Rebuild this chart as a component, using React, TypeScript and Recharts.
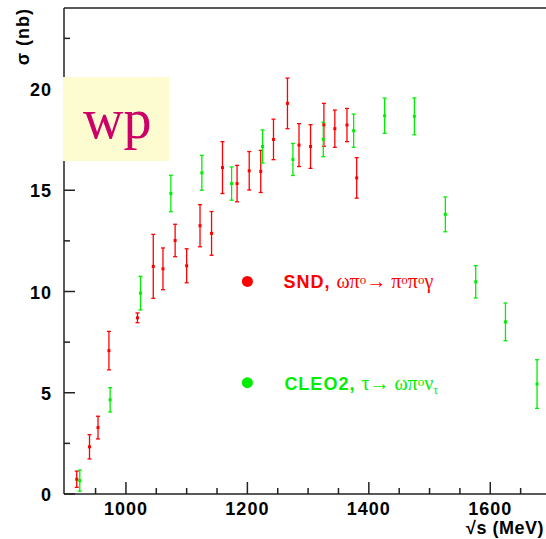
import React from "react";
import {
  ScatterChart,
  Scatter,
  XAxis,
  YAxis,
  ErrorBar,
  ReferenceLine,
  ReferenceDot,
} from "recharts";

// SND e+e- -> omega pi0 -> pi0 pi0 gamma (sqrt(s) in MeV, sigma in nb, stat. error)
const sndEnergy = [919, 940, 954, 972, 1019, 1045, 1061, 1081, 1100, 1122, 1141, 1159, 1183, 1203, 1222, 1243, 1266, 1285, 1304, 1326, 1344, 1364, 1380];
const sndSigma = [0.73, 2.33, 3.28, 7.08, 8.7, 11.24, 11.12, 12.52, 11.27, 13.25, 12.87, 16.12, 15.33, 15.96, 15.93, 17.51, 19.29, 17.23, 17.16, 18.23, 18.04, 18.22, 15.61];
const sndError = [0.4, 0.6, 0.56, 0.95, 0.24, 1.58, 1.03, 0.8, 0.84, 1.04, 1.08, 1.28, 0.9, 0.95, 1.04, 1.0, 1.25, 1.06, 1.08, 1.06, 0.92, 0.82, 1.0];

// CLEO2 tau -> omega pi0 nu (converted)
const cleoEnergy = [924, 974, 1024, 1074, 1125, 1174, 1225, 1275, 1325, 1375, 1426, 1475, 1526, 1576, 1625, 1677];
const cleoSigma = [0.66, 4.65, 9.92, 14.84, 15.86, 15.33, 17.16, 16.52, 17.51, 17.94, 18.68, 18.65, 13.81, 10.48, 8.5, 5.43];
const cleoError = [0.52, 0.6, 0.83, 0.9, 0.86, 0.82, 0.82, 0.79, 0.85, 0.82, 0.87, 0.91, 0.86, 0.8, 0.93, 1.2];

const xTicks = [950, 1000, 1050, 1100, 1150, 1200, 1250, 1300, 1350, 1400, 1450, 1500, 1550, 1600, 1650];
const yTicks = [0, 2.5, 5, 7.5, 10, 12.5, 15, 17.5, 20, 22.5];

const legendX = 1200;
const sndLegendY = 10.5;
const cleoLegendY = 5.5;

const RED = "#ff0000";
const GREEN = "#00ee00";
const AXIS = "#222";
const SANS = "'Liberation Sans', Arial, sans-serif";
const SERIF = "'Liberation Serif', 'Times New Roman', serif";

const toPoints = (xs: number[], ys: number[], es: number[]) =>
  xs.map((x, i) => ({ x, y: ys[i], err: es[i] }));

const sndData = toPoints(sndEnergy, sndSigma, sndError);
const cleoData = toPoints(cleoEnergy, cleoSigma, cleoError);

const Marker = (color: string) => (props: any) => {
  const { cx, cy } = props;
  return <rect x={cx - 1.5} y={cy - 1.5} width={3} height={3} fill={color} />;
};

const XTick = (props: any) => {
  const { x, y, payload } = props;
  const major = payload.value % 200 === 0;
  return (
    <g>
      <line x1={x} y1={y} x2={x} y2={y - (major ? 12 : 6)} stroke={AXIS} strokeWidth={1.5} />
      {major && (
        <text x={x} y={y + 21} textAnchor="middle" fontFamily={SANS} fontWeight="bold" fontSize={18} letterSpacing={1} fill="#000">
          {payload.value}
        </text>
      )}
    </g>
  );
};

const YTick = (props: any) => {
  const { x, y, payload } = props;
  const major = payload.value % 5 === 0;
  return (
    <g>
      <line x1={x} y1={y} x2={x + (major ? 11 : 6)} y2={y} stroke={AXIS} strokeWidth={1.5} />
      {major && (
        <text x={x - 12} y={y + 7} textAnchor="end" fontFamily={SANS} fontWeight="bold" fontSize={18} letterSpacing={1} fill="#000">
          {payload.value}
        </text>
      )}
    </g>
  );
};

// axis title kept fully inside the visible window
const XTitle = (props: any) => {
  const vb = props.viewBox || { x: 64, y: 494, width: 487 };
  return (
    <text x={544} y={vb.y + 40} textAnchor="end" fontFamily={SANS} fontWeight="bold" fontSize={18} letterSpacing={0.5} fill="#000">
      √s (MeV)
    </text>
  );
};

const YTitle = () => {
  const x = 29;
  const y = 8;
  return (
    <text x={x} y={y} transform={`rotate(-90 ${x} ${y})`} textAnchor="end" fontFamily={SANS} fontWeight="bold" fontSize={18} letterSpacing={1} fill="#000">
      σ (nb)
    </text>
  );
};

const SndLabel = (props: any) => {
  const vb = props.viewBox;
  const cx = vb.x + vb.width / 2;
  const cy = vb.y + vb.height / 2;
  return (
    <text x={cx + 36} y={cy + 7} fill={RED} fontFamily={SERIF} fontSize={20}>
      <tspan fontFamily={SANS} fontWeight="bold" fontSize={18} letterSpacing={1}>SND, </tspan>
      <tspan>ωπ</tspan>
      <tspan fontSize={13} dy={-4}>o</tspan>
      <tspan dy={4}>→ π</tspan>
      <tspan fontSize={13} dy={-4}>o</tspan>
      <tspan dy={4}>π</tspan>
      <tspan fontSize={13} dy={-4}>o</tspan>
      <tspan dy={4}>γ</tspan>
    </text>
  );
};

const CleoLabel = (props: any) => {
  const vb = props.viewBox;
  const cx = vb.x + vb.width / 2;
  const cy = vb.y + vb.height / 2;
  return (
    <text x={cx + 37} y={cy + 7} fill={GREEN} fontFamily={SERIF} fontSize={20}>
      <tspan fontFamily={SANS} fontWeight="bold" fontSize={18} letterSpacing={1}>CLEO2, </tspan>
      <tspan>τ→ ωπ</tspan>
      <tspan fontSize={13} dy={-4}>o</tspan>
      <tspan dy={4}>ν</tspan>
      <tspan fontSize={12} dy={4}>τ</tspan>
    </text>
  );
};

export default function App() {
  return (
    <div style={{ position: "absolute", left: 0, top: 0, width: 546, height: 539, overflow: "hidden", background: "#fff" }}>
      <ScatterChart width={600} height={539} margin={{ top: 8, right: 49, bottom: 0, left: 0 }}>
        <XAxis
          type="number"
          dataKey="x"
          domain={[898, 1700]}
          allowDataOverflow
          ticks={xTicks}
          interval={0}
          tick={<XTick />}
          tickSize={0}
          tickMargin={0}
          tickLine={false}
          height={45}
          axisLine={{ stroke: AXIS, strokeWidth: 1.5 }}
          label={<XTitle />}
        />
        <YAxis
          type="number"
          dataKey="y"
          domain={[0, 24]}
          allowDataOverflow
          ticks={yTicks}
          interval={0}
          tick={<YTick />}
          tickSize={0}
          tickMargin={0}
          tickLine={false}
          width={64}
          axisLine={{ stroke: AXIS, strokeWidth: 1.5 }}
          label={<YTitle />}
        />
        <ReferenceLine y={24} stroke={AXIS} strokeWidth={1.5} />
        <Scatter data={sndData} shape={Marker(RED)} isAnimationActive={false}>
          <ErrorBar dataKey="err" direction="y" width={2} stroke={RED} strokeWidth={1.3} isAnimationActive={false} />
        </Scatter>
        <Scatter data={cleoData} shape={Marker(GREEN)} isAnimationActive={false}>
          <ErrorBar dataKey="err" direction="y" width={2} stroke={GREEN} strokeWidth={1.3} isAnimationActive={false} />
        </Scatter>
        <ReferenceDot x={legendX} y={sndLegendY} r={5.5} fill={RED} stroke="none" label={<SndLabel />} />
        <ReferenceDot x={legendX} y={cleoLegendY} r={5.5} fill={GREEN} stroke="none" label={<CleoLabel />} />
      </ScatterChart>
      <svg width={546} height={539} style={{ position: "absolute", left: 0, top: 0, pointerEvents: "none" }}>
        <rect x={63} y={77} width={106} height={84} fill="#fcfcd0" />
        <text x={83} y={138} fontFamily={SERIF} fontSize={56} fill="#cc0066">wp</text>
      </svg>
    </div>
  );
}
